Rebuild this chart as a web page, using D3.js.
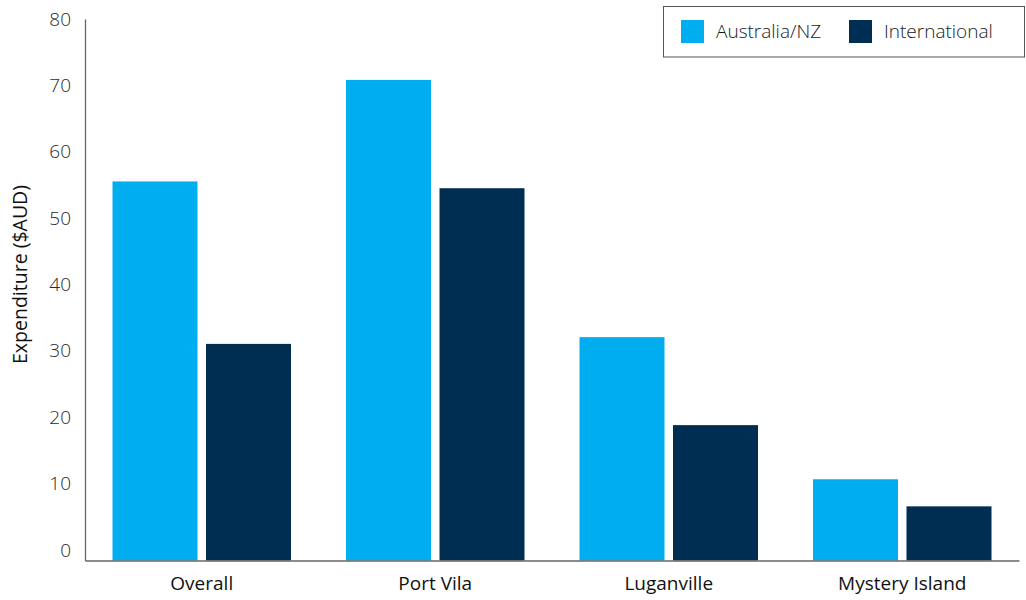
<!DOCTYPE html>
<html>
<head>
<meta charset="utf-8">
<script src="https://cdn.jsdelivr.net/npm/d3@7"></script>
<style>
  html, body { margin: 0; padding: 0; background: #fff; }
  svg { display: block; font-family: "Open Sans", sans-serif; }
</style>
</head>
<body>
<svg id="chart" width="1026" height="600"></svg>
<script>
const categories = ["Overall", "Port Vila", "Luganville", "Mystery Island"];
const seriesNames = ["Australia/NZ", "International"];
const australiaNZ = [56, 71, 33, 12];
const international = [32, 55, 20, 8];
const yTicks = [0, 10, 20, 30, 40, 50, 60, 70, 80];
const colors = ["#00AEEF", "#002D52"];
const yTitle = "Expenditure ($AUD)";

const seriesValues = [australiaNZ, international];
const data = categories.map((c, i) => ({
  category: c,
  values: seriesNames.map((s, j) => ({ series: s, value: seriesValues[j][i] }))
}));

const svg = d3.select("#chart");
const mLeft = 85, mRight = 1019, mTop = 19, mBottom = 560.5;

const x0 = d3.scaleBand().domain(categories).range([mLeft, mRight]).padding(0);
const x1 = d3.scaleBand().domain(seriesNames).range([27.5, 206]).paddingInner(0.091).paddingOuter(0);
const y = d3.scaleLinear().domain([0, 80]).range([mBottom, mTop]);
// tick labels in the reference sit slightly above their tick positions
const yLabel = d3.scaleLinear().domain([0, 80]).range([550, 19]);
const color = d3.scaleOrdinal().domain(seriesNames).range(colors);

// bars
const groups = svg.append("g").selectAll("g").data(data).join("g")
  .attr("transform", d => `translate(${x0(d.category)},0)`);
groups.selectAll("rect").data(d => d.values).join("rect")
  .attr("x", d => x1(d.series))
  .attr("width", x1.bandwidth())
  .attr("y", d => y(d.value))
  .attr("height", d => y(0) - y(d.value))
  .attr("fill", d => color(d.series));

// y axis
const yAxis = svg.append("g")
  .attr("transform", `translate(${mLeft},0)`)
  .call(d3.axisLeft(y).tickValues(yTicks).tickSize(0).tickPadding(14).tickFormat(d3.format("d")));
yAxis.select(".domain").attr("stroke", "#666").attr("stroke-width", 1.3);
yAxis.selectAll(".tick text")
  .attr("fill", "#2a2a2a")
  .style("font-size", "19px")
  .style("font-weight", "300")
  .style("font-family", "'Open Sans', sans-serif")
  .attr("transform", d => `translate(0,${yLabel(d) - y(d)})`);

// x axis
const xAxis = svg.append("g")
  .attr("transform", `translate(0,${mBottom})`)
  .call(d3.axisBottom(x0).tickSize(0).tickPadding(16));
xAxis.select(".domain").attr("stroke", "#666").attr("stroke-width", 1.3);
xAxis.selectAll(".tick text")
  .attr("fill", "#111")
  .style("font-size", "19px")
  .style("font-family", "'Open Sans', sans-serif");

// y title
svg.append("text")
  .attr("transform", `translate(27,274.5) rotate(-90)`)
  .attr("text-anchor", "middle")
  .attr("fill", "#111")
  .style("font-size", "19.5px")
  .text(yTitle);

// legend
const legend = svg.append("g");
legend.append("rect")
  .attr("x", 663.5).attr("y", 6.5)
  .attr("width", 361).attr("height", 50.5)
  .attr("fill", "#fff").attr("stroke", "#555").attr("stroke-width", 1);
const legendX = [681, 849];
seriesNames.forEach((s, i) => {
  legend.append("rect")
    .attr("x", legendX[i]).attr("y", 20)
    .attr("width", 23).attr("height", 23)
    .attr("fill", color(s));
  legend.append("text")
    .attr("x", legendX[i] + 35).attr("y", 31.5)
    .attr("dy", "0.35em")
    .attr("fill", "#1a1a1a")
    .style("font-size", "19px")
    .style("font-weight", "300")
    .text(s);
});
</script>
</body>
</html>
